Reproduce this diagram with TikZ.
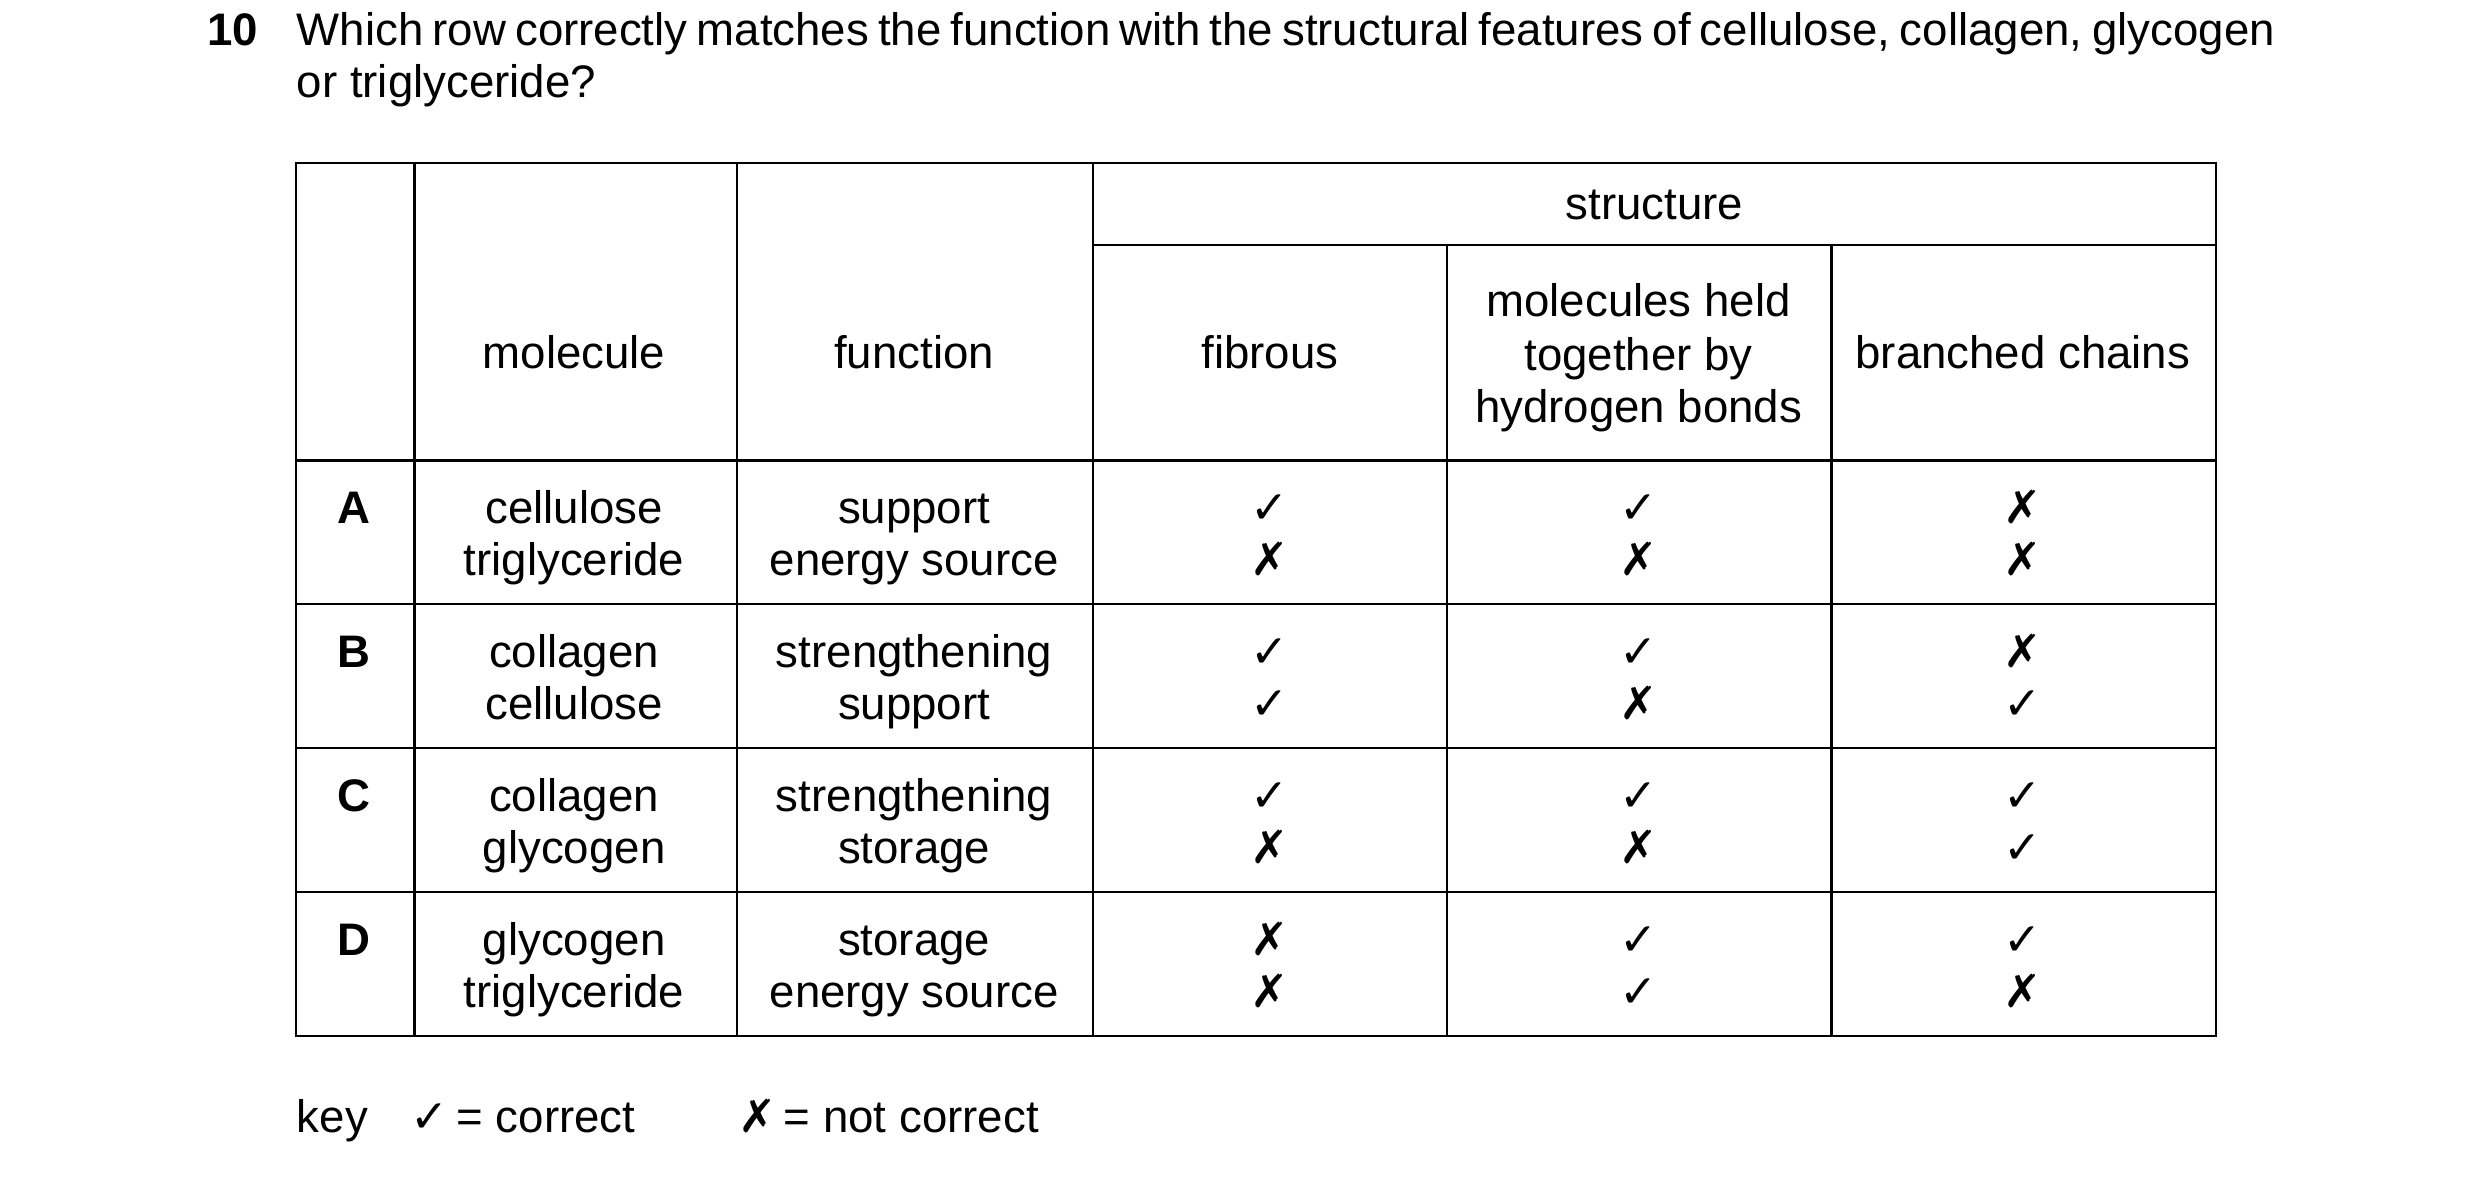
\documentclass[tikz,border=0pt]{standalone}
\usepackage{fontspec}
\setmainfont{Liberation Sans}
\newfontfamily\sym{DejaVu Sans}
\newcommand{\ck}{{\sym ✓}}
\newcommand{\xx}{{\sym ✗}}
\begin{document}
\begin{tikzpicture}[x=0.01cm,y=-0.01cm,
  txt/.style={anchor=base,inner sep=0pt,font=\fontsize{8.2}{9.4}\selectfont},
  bx/.style={txt,font=\fontsize{8.2}{9.4}\selectfont\bfseries},
  grid/.style={line width=0.45pt}]
\useasboundingbox (0,0) rectangle (1568,747);
\node[bx] (q) at (147,29) {10};
\node[anchor=north west,inner sep=0pt,text width=12.5cm,align=justify,font=\fontsize{8.2}{9.4}\selectfont] (qt) at (187,7)
 {Which row correctly matches the function with the structural features of cellulose, collagen, glycogen or triglyceride?};
% grid
\draw[grid] (187,103) rectangle (1401,655);
\foreach \x in {262,466,691} \draw[grid] (\x,103) -- (\x,655);
\foreach \x in {915,1158} \draw[grid] (\x,155) -- (\x,655);
\draw[grid] (691,155) -- (1401,155);
\foreach \y in {291,382,473,564} \draw[grid] (187,\y) -- (1401,\y);
% headers
\node[txt] (hs) at (1046,139) {structure};
\node[txt] (hm) at (363,233) {molecule};
\node[txt] (hf) at (578,233) {function};
\node[txt] (hb) at (803,233) {fibrous};
\node[txt] (h1) at (1036,200) {molecules held};
\node[txt] (h2) at (1036,234) {together by};
\node[txt] (h3) at (1036,267) {hydrogen bonds};
\node[txt] (hr) at (1279,233) {branched chains};
% rows
\foreach \n/\y/\ma/\mb/\fa/\fb/\ca/\cb/\da/\db/\ea/\eb in {
 A/331/cellulose/triglyceride/support/energy source/\ck/\xx/\ck/\xx/\xx/\xx,
 B/422/collagen/cellulose/strengthening/support/\ck/\ck/\ck/\xx/\xx/\ck,
 C/513/collagen/glycogen/strengthening/storage/\ck/\xx/\ck/\xx/\ck/\ck,
 D/604/glycogen/triglyceride/storage/energy source/\xx/\xx/\ck/\ck/\ck/\xx}{
 \node[bx] (l\n) at (224,\y) {\n};
 \node[txt] (ma\n) at (363,\y) {\ma};
 \node[txt] (mb\n) at (363,\y+33) {\mb};
 \node[txt] (fa\n) at (578,\y) {\fa};
 \node[txt] (fb\n) at (578,\y+33) {\fb};
 \node[txt] (ca\n) at (803,\y) {\ca};
 \node[txt] (cb\n) at (803,\y+33) {\cb};
 \node[txt] (da\n) at (1036,\y) {\da};
 \node[txt] (db\n) at (1036,\y+33) {\db};
 \node[txt] (ea\n) at (1279,\y) {\ea};
 \node[txt] (eb\n) at (1279,\y+33) {\eb};
}
% key
\node[txt,anchor=base west] (k) at (187,716) {key};
\node[txt,anchor=base west] (k1) at (259,716) {\ck\,= correct};
\node[txt,anchor=base west] (k2) at (466,716) {\xx\,= not correct};
\end{tikzpicture}
\end{document}
